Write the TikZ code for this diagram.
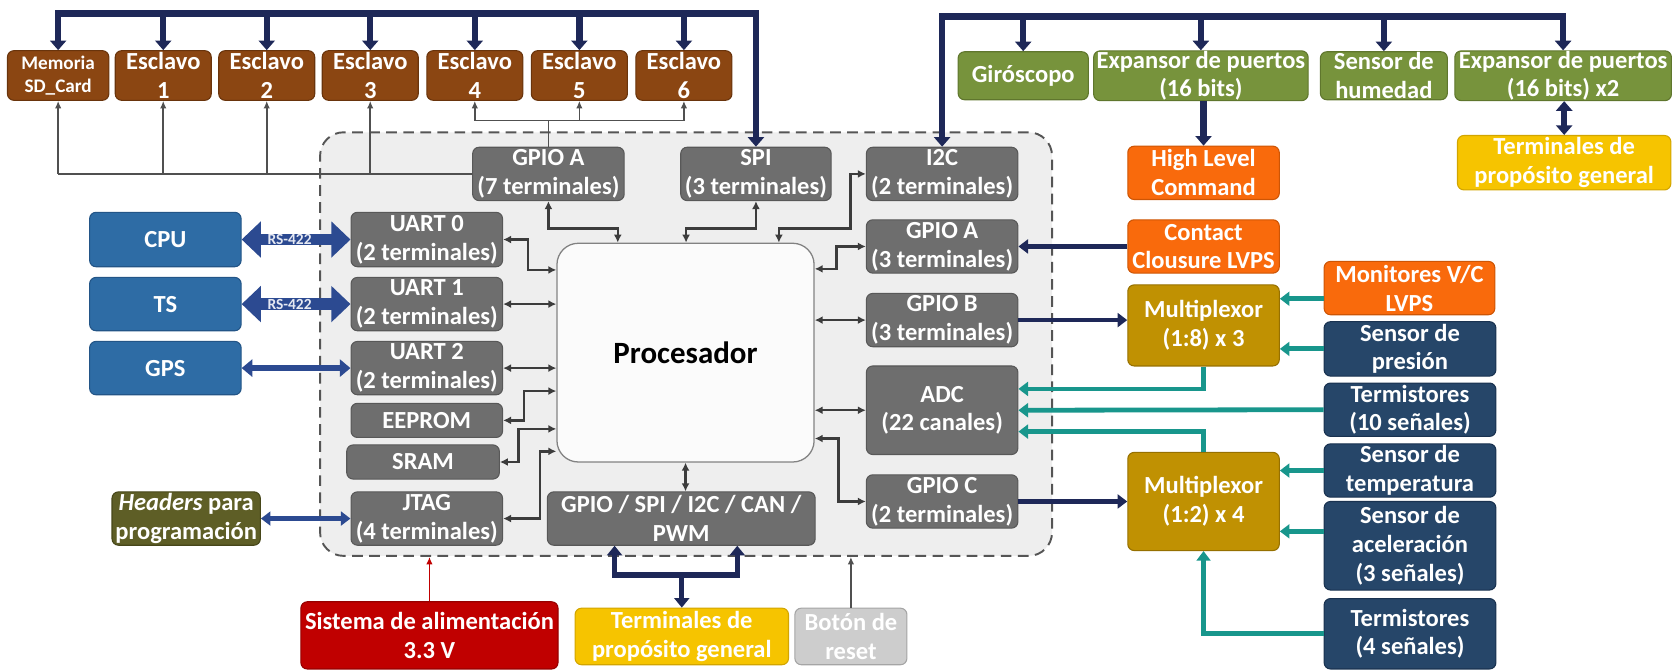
\documentclass[tikz,border=0pt]{standalone}
\usepackage{fontspec}
\setmainfont{Carlito}
\usetikzlibrary{arrows.meta,calc}

% fills and lines
\definecolor{brownfill}{RGB}{139,70,18}
\definecolor{brownline}{RGB}{105,52,12}
\definecolor{grayfill}{RGB}{110,110,110}
\definecolor{grayline}{RGB}{88,88,88}
\definecolor{boardfill}{RGB}{238,238,238}
\definecolor{boardline}{RGB}{85,85,85}
\definecolor{procfill}{RGB}{251,251,251}
\definecolor{procline}{RGB}{130,130,130}
\definecolor{bluefill}{RGB}{46,108,165}
\definecolor{blueline}{RGB}{35,85,135}
\definecolor{olivefill}{RGB}{94,94,38}
\definecolor{oliveline}{RGB}{70,70,25}
\definecolor{redfill}{RGB}{192,0,0}
\definecolor{redline}{RGB}{150,0,0}
\definecolor{yellowfill}{RGB}{246,196,0}
\definecolor{yellowline}{RGB}{210,165,0}
\definecolor{lightfill}{RGB}{205,205,205}
\definecolor{lightline}{RGB}{165,165,165}
\definecolor{greenfill}{RGB}{119,147,60}
\definecolor{greenline}{RGB}{95,118,45}
\definecolor{orangefill}{RGB}{249,106,12}
\definecolor{orangeline}{RGB}{205,85,5}
\definecolor{goldfill}{RGB}{192,145,2}
\definecolor{goldline}{RGB}{150,112,0}
\definecolor{navyfill}{RGB}{38,70,105}
\definecolor{navyline}{RGB}{25,50,80}
\definecolor{buscol}{RGB}{30,40,88}
\definecolor{tealcol}{RGB}{24,150,140}
\definecolor{rscol}{RGB}{44,74,145}
\definecolor{wirecol}{RGB}{60,60,60}
\definecolor{sigcol}{RGB}{80,80,80}

\newcommand\bxfont{\fontsize{23}{27}\selectfont\bfseries}
\newcommand\bxsmall{\fontsize{18}{21}\selectfont\bfseries}
\newcommand\procfnt{\fontsize{29}{34}\selectfont\bfseries}
\newcommand\tagfnt{\fontsize{14.5}{15}\selectfont\bfseries}

\tikzset{
  box/.style={rounded corners=6pt, line width=1pt, align=center, inner sep=0pt,
              text=white, font=\bxfont},
  brownbox/.style={box, fill=brownfill, draw=brownline},
  graybox/.style={box, fill=grayfill, draw=grayline},
  bluebox/.style={box, fill=bluefill, draw=blueline},
  olivebox/.style={box, fill=olivefill, draw=oliveline},
  redbox/.style={box, fill=redfill, draw=redline},
  yellowbox/.style={box, fill=yellowfill, draw=yellowline},
  lightbox/.style={box, fill=lightfill, draw=lightline},
  greenbox/.style={box, fill=greenfill, draw=greenline},
  orangebox/.style={box, fill=orangefill, draw=orangeline},
  goldbox/.style={box, fill=goldfill, draw=goldline},
  navybox/.style={box, fill=navyfill, draw=navyline},
  sz/.style 2 args={minimum width=#1pt, minimum height=#2pt},
  board/.style={draw=boardline, fill=boardfill, line width=1.8pt,
                dash pattern=on 10pt off 6pt, rounded corners=22pt},
  proc/.style={draw=procline, fill=procfill, line width=1.2pt, rounded corners=20pt,
               font=\procfnt, text=black},
  bus/.style={draw=buscol, line width=6pt, >={Triangle[length=9pt,width=15pt]}},
  bustwo/.style={draw=buscol, line width=5pt, >={Triangle[length=9pt,width=14pt]}},
  nav/.style={draw=buscol, line width=4pt, >={Triangle[length=9pt,width=13pt]}},
  tl/.style={draw=tealcol, line width=4.5pt, >={Triangle[length=9pt,width=13pt]}},
  wire/.style={draw=wirecol, line width=2.2pt, >={Latex[length=7.5pt,width=7.5pt]}},
  sig/.style={draw=sigcol, line width=1.5pt, >={Latex[length=7pt,width=6pt]}},
  rs/.style={draw=rscol, line width=11pt, {Triangle[length=18pt,width=33pt]}-{Triangle[length=18pt,width=33pt]}},
  gpsline/.style={draw=rscol, line width=5pt, {Triangle[length=10pt,width=16pt]}-{Triangle[length=10pt,width=16pt]}},
  hdrline/.style={draw=rscol, line width=4pt, {Triangle[length=9pt,width=13pt]}-{Triangle[length=9pt,width=13pt]}},
  rslabel/.style={font=\tagfnt, text=white!88!rscol, inner sep=0pt},
  powerline/.style={draw=redfill, line width=1.5pt, >={Latex[length=7pt,width=6pt]}},
  resetline/.style={draw=sigcol, line width=1.5pt, >={Latex[length=7pt,width=6pt]}},
}

\begin{document}
\begin{tikzpicture}[x=1pt,y=-1pt]
\useasboundingbox (0,0) rectangle (1568,628);

% board outline
\node[board, sz={686}{397}] (board) at (643,322.5) {};

% slaves row
\node[brownbox, sz={95}{46.5}, font=\bxsmall] (mem) at (54.5,70.75) {Memoria\\SD\_Card};
\node[brownbox, sz={90}{46.5}] (e1) at (153,70.75) {Esclavo\\1};
\node[brownbox, sz={90}{46.5}] (e2) at (250,70.75) {Esclavo\\2};
\node[brownbox, sz={90}{46.5}] (e3) at (347,70.75) {Esclavo\\3};
\node[brownbox, sz={90}{46.5}] (e4) at (445,70.75) {Esclavo\\4};
\node[brownbox, sz={90}{46.5}] (e5) at (543,70.75) {Esclavo\\5};
\node[brownbox, sz={90}{46.5}] (e6) at (641,70.75) {Esclavo\\6};

% top right peripherals
\node[greenbox, sz={122}{45}] (giro) at (959,71) {Giróscopo};
\node[greenbox, sz={201}{45}] (exp16) at (1125.5,71) {Expansor de puertos\\(16 bits)};
\node[greenbox, sz={119}{45}] (hum) at (1297,71) {Sensor de\\humedad};
\node[greenbox, sz={203}{45}] (expx2) at (1465,71) {Expansor de puertos\\(16 bits) x2};
\node[orangebox, sz={142}{50}] (hlc) at (1128,162) {High Level\\Command};
\node[yellowbox, sz={200}{51}] (tgr) at (1466,152.5) {Terminales de\\propósito general};

% processor and its peripherals
\node[proc, sz={241}{205}] (proc) at (642.5,330.5) {Procesador};
\node[graybox, sz={142}{50}] (gpa7) at (514,163) {GPIO A\\(7 terminales)};
\node[graybox, sz={141}{50}] (spi) at (708.5,163) {SPI\\(3 terminales)};
\node[graybox, sz={142}{50}] (i2c) at (883,163) {I2C\\(2 terminales)};
\node[graybox, sz={142}{51}] (uart0) at (400,224.5) {UART 0\\(2 terminales)};
\node[graybox, sz={142}{50}] (uart1) at (400,285) {UART 1\\(2 terminales)};
\node[graybox, sz={142}{50}] (uart2) at (400,345) {UART 2\\(2 terminales)};
\node[graybox, sz={142}{32}] (eeprom) at (400,394) {EEPROM};
\node[graybox, sz={143}{32}] (sram) at (396.5,433) {SRAM};
\node[graybox, sz={142}{50}] (jtag) at (400,486) {JTAG\\(4 terminales)};
\node[graybox, sz={251}{50}] (gsb) at (638.5,486) {GPIO / SPI / I2C / CAN /\\PWM};
\node[graybox, sz={142}{50}] (gpa3) at (883,231) {GPIO A\\(3 terminales)};
\node[graybox, sz={142}{50}] (gpb) at (883,300) {GPIO B\\(3 terminales)};
\node[graybox, sz={142}{83}] (adc) at (883,384.5) {ADC\\(22 canales)};
\node[graybox, sz={142}{50}] (gpc) at (883,470) {GPIO C\\(2 terminales)};

% left side
\node[bluebox, sz={142}{51}] (cpu) at (155,224.5) {CPU};
\node[bluebox, sz={142}{50}] (ts) at (155,285) {TS};
\node[bluebox, sz={142}{50}] (gps) at (155,345) {GPS};
\node[olivebox, sz={139}{50}] (hdr) at (174.5,486) {\textit{Headers} para\\programación};

% bottom
\node[redbox, sz={241}{63}] (sis) at (402.5,595.5) {Sistema de alimentación\\3.3 V};
\node[yellowbox, sz={200}{53}] (tbot) at (639,596.5) {Terminales de\\propósito general};
\node[lightbox, sz={105}{53}] (bot) at (797.5,596.5) {Botón de\\reset};

% right side
\node[orangebox, sz={142}{50}] (contact) at (1128,231) {Contact\\Clousure LVPS};
\node[goldbox, sz={142}{76}] (mux1) at (1128,305) {Multiplexor\\(1:8) x 3};
\node[goldbox, sz={142}{92}] (mux2) at (1128,470) {Multiplexor\\(1:2) x 4};
\node[orangebox, sz={160}{50}] (mon) at (1321,270) {Monitores V/C\\LVPS};
\node[navybox, sz={161}{51}] (pres) at (1321.5,327) {Sensor de\\presión};
\node[navybox, sz={161}{50}] (t10) at (1321.5,384) {Termistores\\(10 señales)};
\node[navybox, sz={161}{50}] (temp) at (1321.5,441) {Sensor de\\temperatura};
\node[navybox, sz={161}{83}] (acel) at (1321.5,511.5) {Sensor de\\aceleración\\(3 señales)};
\node[navybox, sz={161}{66}] (t4) at (1321.5,594) {Termistores\\(4 señales)};

% SPI bus to the slaves
\coordinate (spitop) at (708.5,12.5);
\draw[bus,<->] (mem.north) |- (spitop) -- (spi.north);
\foreach \n in {e1,e2,e3,e4,e5,e6} \draw[bus,->] (\n.north |- spitop) -- (\n.north);

% I2C bus
\coordinate (i2ctop) at (1465,15.6);
\draw[bus,<->] (i2c.north) |- (i2ctop) -- (expx2.north);
\foreach \n in {giro,exp16,hum} \draw[bus,->] (\n.north |- i2ctop) -- (\n.north);
\draw[bus,->] (exp16.south -| hlc.north) -- (hlc.north);
\draw[bus,<->] (expx2.south -| tgr.north) -- (tgr.north);

% chip selects from GPIO A
\coordinate (ga7j) at (514,113);
\draw[sig] (gpa7.north) -- (ga7j);
\draw[sig] (e4.south |- ga7j) -- (e6.south |- ga7j);
\foreach \n in {e4,e5,e6} \draw[sig,->] (\n.south |- ga7j) -- (\n.south);
\draw[sig] (gpa7.west) -- (gpa7.west -| mem.south);
\foreach \n in {mem,e1,e2,e3} \draw[sig,->] (gpa7.west -| \n.south) -- (\n.south);

% processor links, top
\coordinate (ja) at (579,214);
\coordinate (js) at (643,214);
\coordinate (ji1) at (797,214);
\coordinate (ji2) at (730,214);
\draw[wire,<->] (gpa7.south) |- (ja) -- (ja |- proc.north);
\draw[wire,<->] (spi.south) |- (js) -- (js |- proc.north);
\draw[wire,<->] (i2c.west) -| (ji1) -- (ji2) -- (ji2 |- proc.north);

% processor links, left
\coordinate (ju0) at (495,253);
\coordinate (jee) at (491,366.5);
\coordinate (jsr) at (486,402);
\coordinate (jjt) at (506,423);
\draw[wire,<->] (uart0.east) -| (ju0) -- (ju0 -| proc.west);
\draw[wire,<->] (uart1.east) -- (uart1.east -| proc.west);
\draw[wire,<->] (uart2.east) -- (uart2.east -| proc.west);
\draw[wire,<->] (eeprom.east) -| (jee) -- (jee -| proc.west);
\draw[wire,<->] (sram.east) -| (jsr) -- (jsr -| proc.west);
\draw[wire,<->] (jtag.east) -| (jjt) -- (jjt -| proc.west);

% processor links, right and bottom
\coordinate (jg3) at (784,252);
\coordinate (jgc) at (786,411);
\draw[wire,<->] (gpa3.west) -| (jg3) -- (jg3 -| proc.east);
\draw[wire,<->] (gpb.west) -- (gpb.west -| proc.east);
\draw[wire,<->] (adc.west) -- (adc.west -| proc.east);
\draw[wire,<->] (gpc.west) -| (jgc) -- (jgc -| proc.east);
\draw[wire,<->] (proc.south) -- (proc.south |- gsb.north);

% general purpose terminals
\coordinate (jb1) at (576,539);
\coordinate (jb2) at (691,539);
\draw[bustwo,<->] (jb1 |- gsb.south) -- (jb1) -- (jb2) -- (jb2 |- gsb.south);
\draw[bustwo,->] (tbot.north |- jb1) -- (tbot.north);

% power and reset
\draw[powerline,->] (sis.north) -- (sis.north |- board.south);
\draw[resetline,->] (bot.north) -- (bot.north |- board.south);

% serial links
\draw[rs] (cpu.east) -- node[rslabel,pos=0.44]{RS-422} (uart0.west);
\draw[rs] (ts.east) -- node[rslabel,pos=0.44]{RS-422} (uart1.west);
\draw[gpsline] (gps.east) -- (uart2.west);
\draw[hdrline] (hdr.east) -- (jtag.west);

% digital lines on the right
\draw[nav,->] (contact.west) -- (gpa3.east);
\draw[nav,->] (gpb.east) -- (gpb.east -| mux1.west);
\draw[nav,->] (gpc.east) -- (gpc.east -| mux2.west);

% analog signals
\draw[tl,->] ([yshift=-10pt]mon.west) -- ([yshift=-10pt]mon.west -| mux1.east);
\draw[tl,->] (pres.west) -- (pres.west -| mux1.east);
\draw[tl,->] (mux1.south) |- ([yshift=20pt]adc.east);
\draw[tl,->] (t10.west) -- (adc.east);
\draw[tl,->] (mux2.north) |- ([yshift=-20pt]adc.east);
\draw[tl,->] (temp.west) -- (temp.west -| mux2.east);
\draw[tl,->] ([yshift=13.5pt]acel.west) -- ([yshift=13.5pt]acel.west -| mux2.east);
\draw[tl,->] (t4.west) -| (mux2.south);
\end{tikzpicture}
\end{document}
